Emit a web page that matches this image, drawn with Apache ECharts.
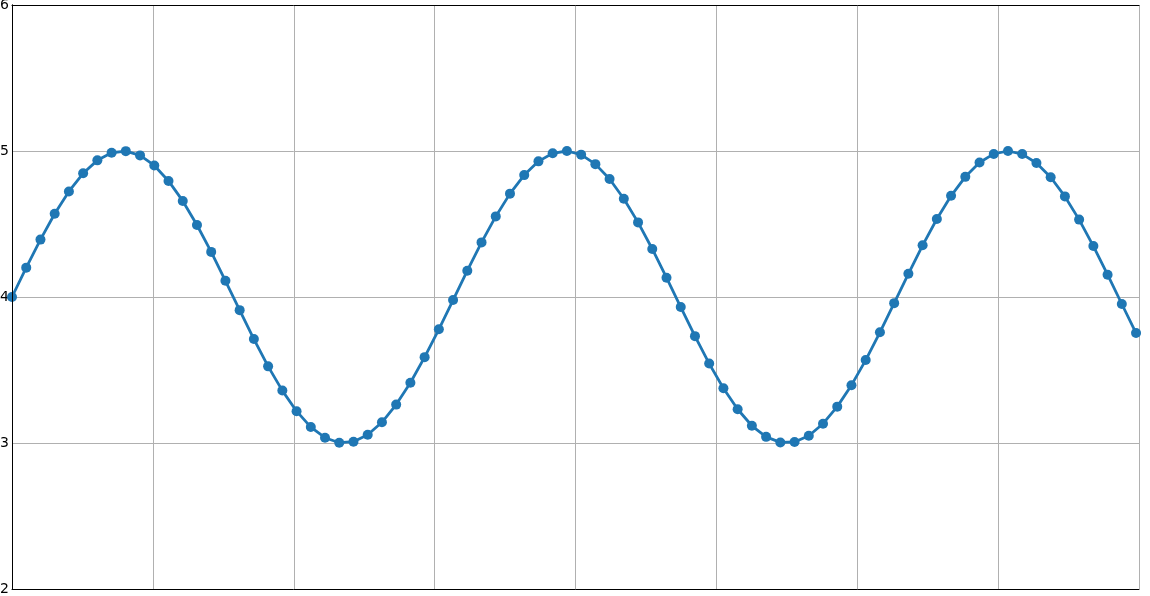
<!DOCTYPE html>
<html>
<head>
<meta charset="utf-8">
<script src="https://cdn.jsdelivr.net/npm/echarts@6/dist/echarts.min.js"></script>
<style>
  html, body { margin: 0; padding: 0; background: #fff; }
  #chart { width: 1150px; height: 596px; }
</style>
</head>
<body>
<div id="chart"></div>
<script>
// x positions of the samples
const xValues = [
  0, 0.101, 0.202, 0.303, 0.404, 0.505, 0.606, 0.707, 0.808, 0.909,
  1.010, 1.111, 1.212, 1.313, 1.414, 1.515, 1.616, 1.717, 1.818, 1.919,
  2.020, 2.121, 2.222, 2.323, 2.424, 2.525, 2.626, 2.727, 2.828, 2.929,
  3.030, 3.131, 3.232, 3.333, 3.434, 3.535, 3.636, 3.737, 3.838, 3.939,
  4.040, 4.141, 4.242, 4.343, 4.444, 4.545, 4.646, 4.747, 4.848, 4.949,
  5.050, 5.151, 5.252, 5.353, 5.454, 5.555, 5.656, 5.757, 5.858, 5.959,
  6.060, 6.161, 6.262, 6.363, 6.464, 6.565, 6.666, 6.767, 6.868, 6.969,
  7.070, 7.171, 7.272, 7.373, 7.474, 7.575, 7.676, 7.777, 7.878, 7.979
];
// y values of the samples
const yValues = [
  4.000, 4.201, 4.393, 4.570, 4.723, 4.847, 4.936, 4.988, 4.999, 4.970,
  4.901, 4.795, 4.658, 4.493, 4.309, 4.111, 3.910, 3.712, 3.525, 3.359,
  3.218, 3.109, 3.036, 3.002, 3.009, 3.056, 3.142, 3.263, 3.413, 3.588,
  3.779, 3.979, 4.180, 4.374, 4.552, 4.708, 4.835, 4.929, 4.984, 5.000,
  4.975, 4.910, 4.808, 4.673, 4.511, 4.329, 4.132, 3.931, 3.732, 3.544,
  3.375, 3.231, 3.118, 3.042, 3.004, 3.007, 3.050, 3.132, 3.249, 3.396,
  3.568, 3.758, 3.958, 4.159, 4.354, 4.534, 4.693, 4.823, 4.921, 4.980,
  5.000, 4.979, 4.918, 4.820, 4.689, 4.530, 4.349, 4.153, 3.952, 3.753
];
// axis ranges / ticks
const yTicks = [2, 3, 4, 5, 6];
const xMin = 0, xMax = 8, xInterval = 1;

const points = xValues.map((x, i) => [x, yValues[i]]);

const frameLine = { show: true, lineStyle: { color: '#000000', width: 1 } };
const gridBox = { left: 12, right: 11, top: 5, bottom: 7, containLabel: false, outerBoundsMode: 'none', show: false };

function frameX(pos) {
  return {
    gridIndex: 1, type: 'value', min: xMin, max: xMax, interval: xInterval, position: pos, z: 10,
    axisLine: frameLine, axisTick: { show: false }, axisLabel: { show: false }, splitLine: { show: false }
  };
}
function frameY(pos) {
  return {
    gridIndex: 1, type: 'value', min: yTicks[0], max: yTicks[yTicks.length - 1], interval: 1, position: pos, z: 10,
    axisLine: frameLine, axisTick: { show: false }, axisLabel: { show: false }, splitLine: { show: false }
  };
}

const chart = echarts.init(document.getElementById('chart'), null, { renderer: 'canvas' });
chart.setOption({
  animation: false,
  backgroundColor: '#ffffff',
  grid: [Object.assign({}, gridBox), Object.assign({}, gridBox)],
  xAxis: [{
    gridIndex: 0, type: 'value', min: xMin, max: xMax, interval: xInterval, position: 'bottom',
    axisLine: { show: false },
    axisTick: { show: false },
    axisLabel: { show: false },
    splitLine: { show: true, lineStyle: { color: '#b0b0b0', width: 1 } }
  }, frameX('bottom'), frameX('top')],
  yAxis: [{
    gridIndex: 0, type: 'value', min: yTicks[0], max: yTicks[yTicks.length - 1], interval: 1, position: 'left',
    axisLine: { show: false },
    axisTick: { show: false },
    axisLabel: {
      show: true, color: '#000000', fontFamily: 'DejaVu Sans', fontSize: 14, margin: 3,
      showMinLabel: true, showMaxLabel: true
    },
    splitLine: { show: true, lineStyle: { color: '#b0b0b0', width: 1 } }
  }, frameY('left'), frameY('right')],
  series: [{
    type: 'line',
    xAxisIndex: 0, yAxisIndex: 0,
    data: points,
    clip: true,
    symbol: 'circle',
    symbolSize: 10,
    showAllSymbol: true,
    lineStyle: { color: '#1f77b4', width: 2.8 },
    itemStyle: { color: '#1f77b4' },
    emphasis: { disabled: true }
  }]
});
</script>
</body>
</html>
